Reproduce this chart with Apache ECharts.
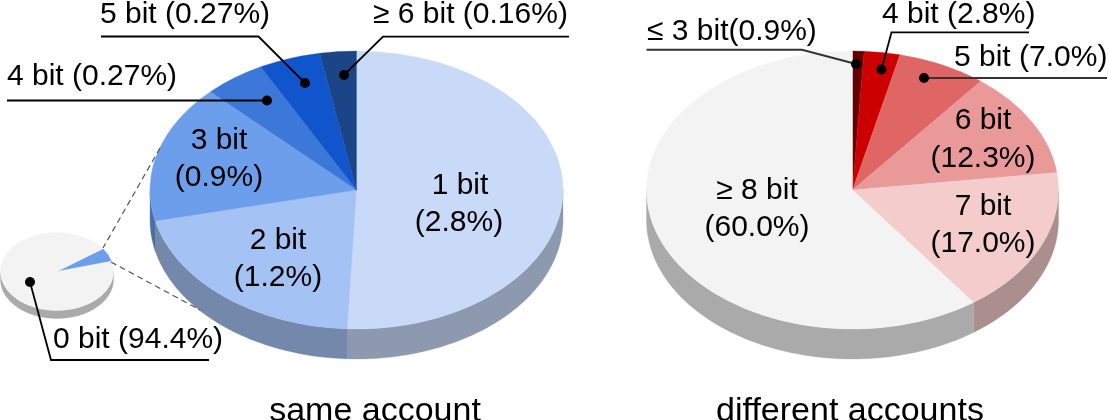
<!DOCTYPE html>
<html>
<head>
<meta charset="utf-8">
<style>
  html, body { margin: 0; padding: 0; background: #fff; }
  #chart { width: 1108px; height: 420px; }
</style>
<script src="https://cdn.jsdelivr.net/npm/echarts@6/dist/echarts.min.js"></script>
</head>
<body>
<div id="chart"></div>
<script>
// slice sizes, clockwise from 12 o'clock
const sameCategories = ['1 bit', '2 bit', '3 bit', '4 bit', '5 bit', '≥ 6 bit']
const sameValues = [2.84, 1.16, 0.9, 0.27, 0.27, 0.16]
const sameColors = ['#c9daf8', '#a4c2f4', '#6d9eeb', '#3c78d8', '#1155cc', '#1c4587']

const diffCategories = ['≤ 3 bit', '4 bit', '5 bit', '6 bit', '7 bit', '≥ 8 bit']
const diffValues = [0.9, 2.8, 7.0, 12.3, 17.0, 60.0]
const diffColors = ['#660000', '#cc0000', '#e06666', '#ea9999', '#f4cccc', '#f3f3f3']

const overviewCategories = ['1+ bit', '0 bit']
const overviewValues = [5.6, 94.4]
const overviewColors = ['#6d9eeb', '#f3f3f3']

const titles = ['same account', 'different accounts']

function shade(color) {
  const c = echarts.color.parse(color)
  return 'rgb(' + [c[0], c[1], c[2]].map(v => Math.round(v * 0.7)).join(',') + ')'
}

function toRows(values) {
  const total = values.reduce((a, b) => a + b, 0)
  let sum = 0
  return values.map(v => {
    const row = [sum / total, (sum + v) / total]
    sum += v
    return row
  })
}

// tilted pie: ECharts pies are always round, so draw the ellipse and its rim here
function tiltedPie(name, categories, values, colors, cx, cy, rx, ry, depth, startDeg) {
  return {
    type: 'custom',
    name: name,
    coordinateSystem: 'none',
    silent: true,
    data: toRows(values).map((row, i) => ({ name: categories[i], value: row })),
    renderItem(params, api) {
      const a = startDeg + api.value(0) * 360
      const b = startDeg + api.value(1) * 360
      const color = colors[params.dataIndex]
      const children = []
      // rim only shows on the front half
      const lo = Math.max(a, 90)
      const hi = Math.min(b, 270)
      if (lo < hi) {
        const top = []
        const bottom = []
        const steps = Math.ceil(hi - lo)
        for (let k = 0; k <= steps; k++) {
          const t = (lo + (hi - lo) * k / steps) * Math.PI / 180
          const x = cx + rx * Math.sin(t)
          const y = cy - ry * Math.cos(t)
          top.push([x, y])
          bottom.unshift([x, y + depth])
        }
        children.push({
          type: 'polygon',
          shape: { points: top.concat(bottom) },
          style: { fill: shade(color), stroke: shade(color), lineWidth: 0.3 }
        })
      }
      children.push({
        type: 'sector',
        x: cx,
        y: cy,
        scaleY: ry / rx,
        shape: {
          cx: 0,
          cy: 0,
          r: rx,
          startAngle: (a - 90) * Math.PI / 180,
          endAngle: (b - 90) * Math.PI / 180
        },
        style: { fill: color, stroke: color, lineWidth: 0.4 }
      })
      return { type: 'group', children: children }
    }
  }
}

function text(str, x, baseline, align, size) {
  return {
    type: 'text',
    z: 20,
    silent: true,
    x: x,
    y: baseline,
    style: {
      text: str,
      fill: '#000',
      font: (size || 30) + 'px "Liberation Sans", Arial, sans-serif',
      align: align || 'left',
      verticalAlign: 'bottom',
      lineHeight: (size || 30)
    }
  }
}

function leader(points, stroke, width) {
  const end = points[points.length - 1]
  return [
    {
      type: 'polyline',
      z: 15,
      silent: true,
      shape: { points: points },
      style: { stroke: stroke || '#000', lineWidth: width || 1.8, fill: null }
    },
    {
      type: 'circle',
      z: 16,
      silent: true,
      shape: { cx: end[0], cy: end[1], r: 5 },
      style: { fill: '#000' }
    }
  ]
}

function dashed(x1, y1, x2, y2) {
  return {
    type: 'line',
    z: 15,
    silent: true,
    shape: { x1: x1, y1: y1, x2: x2, y2: y2 },
    style: { stroke: '#555', lineWidth: 1.2, lineDash: [6, 4] }
  }
}

const textShift = 7.5 // bottom of the line box sits this far below the baseline

const graphics = [
  dashed(160, 148, 103, 248),
  dashed(111, 262, 200, 310),
  ...leader([[101, 36.5], [258.5, 36.5], [305, 83]]),
  ...leader([[7, 100.5], [267, 100.5]]),
  ...leader([[569, 36.7], [383, 36.7], [344, 75]]),
  ...leader([[209, 360], [51, 360], [30, 282]]),
  ...leader([[646.5, 49.7], [802, 49.7], [856, 64]], '#333', 2),
  ...leader([[1029, 32.3], [891.5, 32.3], [881.5, 69.5]]),
  ...leader([[1107, 78], [924, 78]], '#333', 2),

  text(sameCategories[4] + ' (0.27%)', 100, 22 + textShift),
  text(sameCategories[3] + ' (0.27%)', 7, 84 + textShift),
  text(sameCategories[5] + ' (0.16%)', 373, 22 + textShift),
  text(sameCategories[2], 219, 148 + textShift, 'center'),
  text('(0.9%)', 219, 185 + textShift, 'center'),
  text(sameCategories[1], 278, 248 + textShift, 'center'),
  text('(1.2%)', 278, 285 + textShift, 'center'),
  text(sameCategories[0], 460, 193 + textShift, 'center'),
  text('(2.8%)', 459, 230 + textShift, 'center'),
  text(overviewCategories[1] + ' (94.4%)', 53, 347 + textShift),

  text(diffCategories[0] + '(0.9%)', 647, 39 + textShift),
  text(diffCategories[1] + ' (2.8%)', 882, 22 + textShift),
  text(diffCategories[2] + ' (7.0%)', 954, 65 + textShift),
  text(diffCategories[3], 983, 128 + textShift, 'center'),
  text('(12.3%)', 983, 166 + textShift, 'center'),
  text(diffCategories[4], 983, 214 + textShift, 'center'),
  text('(17.0%)', 983, 251 + textShift, 'center'),
  text(diffCategories[5], 757, 198 + textShift, 'center'),
  text('(60.0%)', 757, 235 + textShift, 'center'),

  text(titles[0], 375, 421 + textShift, 'center', 34),
  text(titles[1], 850, 421 + textShift, 'center', 34)
]

const chart = echarts.init(document.getElementById('chart'), null, { renderer: 'canvas' })
chart.setOption({
  animation: false,
  backgroundColor: '#fff',
  series: [
    tiltedPie('same account', sameCategories, sameValues, sameColors, 356.5, 190, 206.5, 139, 30, 0),
    tiltedPie('different accounts', diffCategories, diffValues, diffColors, 852.5, 190, 206, 139, 30, 0),
    tiltedPie('all pairs', overviewCategories, overviewValues, overviewColors, 57, 271.5, 56.5, 39, 8, 54.5)
  ],
  graphic: graphics
})
</script>
</body>
</html>
